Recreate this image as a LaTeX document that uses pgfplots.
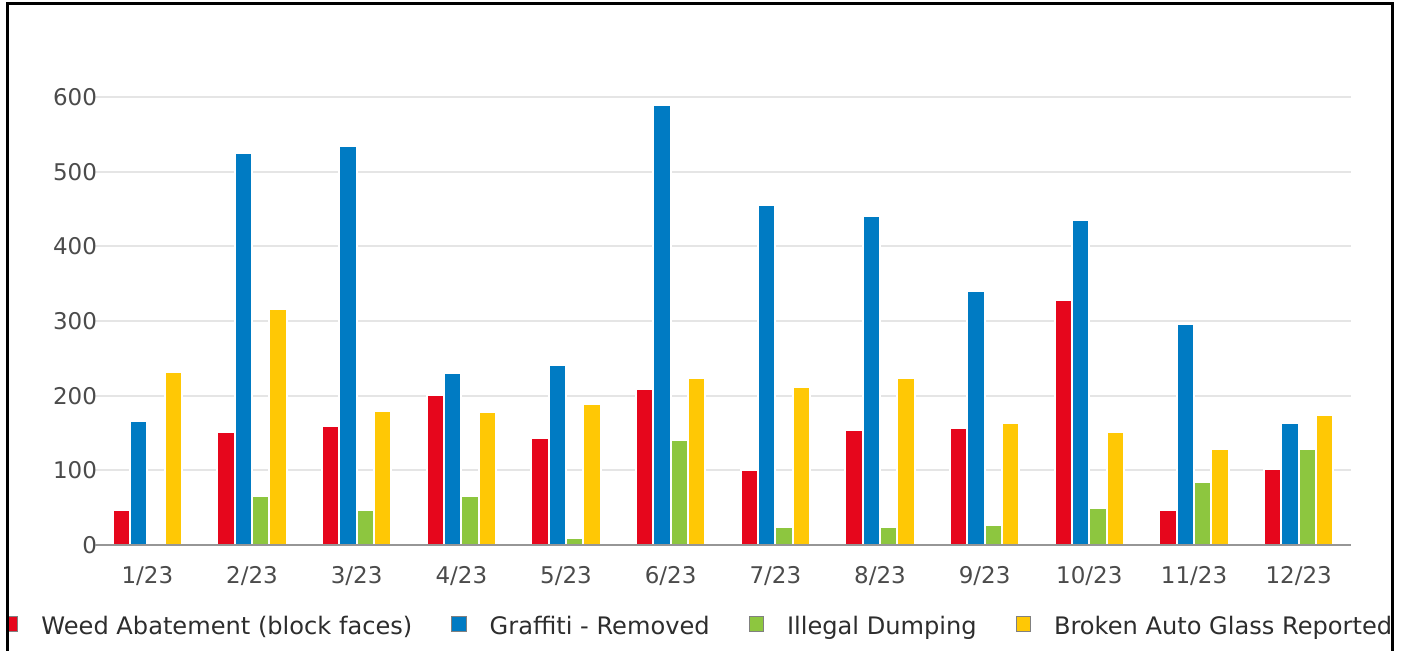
\documentclass[border=0pt]{standalone}
\usepackage{pgfplots}
\usepackage{pgfplotstable}
\pgfplotsset{compat=1.18}
\usepackage{fontspec}
\setmainfont{DejaVu Sans}
\definecolor{cRed}{RGB}{230,6,28}
\definecolor{cBlue}{RGB}{0,123,195}
\definecolor{cGreen}{RGB}{141,198,63}
\definecolor{cYellow}{RGB}{255,200,5}
\definecolor{tickc}{RGB}{75,75,75}
\definecolor{legc}{RGB}{45,45,45}
\definecolor{gridc}{RGB}{229,229,229}
\definecolor{axc}{RGB}{150,150,150}

\pgfplotstableread{
x weed graffiti dumping glass
0 47 166 0 232
1 152 525 65 316
2 160 534 47 180
3 201 230 65 178
4 143 241 9 189
5 209 589 140 224
6 100 456 24 212
7 154 441 24 224
8 157 340 27 163
9 328 435 50 151
10 47 296 84 128
11 102 163 128 174
}\datatable

\begin{document}
\begin{tikzpicture}
\useasboundingbox (0pt,0pt) rectangle (703.5pt,325pt);
\begin{scope}
\clip (4.6pt,-10pt) rectangle (695.4pt,322.6pt);
\begin{axis}[
  at={(47.5pt,52.5pt)}, anchor=south west,
  scale only axis, width=628pt, height=224pt,
  xmin=-0.5, xmax=11.5, ymin=0, ymax=600,
  ybar, bar width=0.1655,
  xtick={0,1,2,3,4,5,6,7,8,9,10,11},
  xticklabels={1/23,2/23,3/23,4/23,5/23,6/23,7/23,8/23,9/23,10/23,11/23,12/23},
  ytick={0,100,200,300,400,500,600},
  /pgf/number format/assume math mode=true,
  ticklabel style={font=\fontsize{11.5}{13}\selectfont, text=tickc, inner sep=0pt},
  xticklabel style={anchor=base, yshift=-19pt},
  yticklabel style={anchor=east, xshift=1.15pt},
  major tick length=0pt, tick style={draw=none},
  axis line style={draw=none},
  ymajorgrids, grid style={gridc, line width=1pt},
  legend columns=4,
  legend style={at={(-0.0732,-0.1826)}, anchor=west, draw=none, fill=none,
    inner sep=0pt, outer sep=0pt,
    font=\fontsize{12.05}{14}\selectfont,
    nodes={inner sep=0pt, text=legc},
    /tikz/every odd column/.append style={column sep=11.5pt},
    /tikz/every even column/.append style={column sep=19.5pt}},
  legend image code/.code={\draw[#1, draw=gray, line width=0.5pt] (0pt,-2.2pt) rectangle (7.2pt,5pt);},
  after end axis/.code={\draw[axc, line width=1pt] (rel axis cs:0,0) -- (rel axis cs:1,0);},
]
\addplot[fill=cRed, draw=white, line width=1pt, bar shift=-0.2483] table[x=x, y=weed] {\datatable};
\addplot[fill=cBlue, draw=white, line width=1pt, bar shift=-0.0828] table[x=x, y=graffiti] {\datatable};
\addplot[fill=cGreen, draw=white, line width=1pt, bar shift=0.0828] table[x=x, y=dumping] {\datatable};
\addplot[fill=cYellow, draw=white, line width=1pt, bar shift=0.2483] table[x=x, y=glass] {\datatable};
\legend{Weed Abatement (block faces), Graffiti - Removed, Illegal Dumping, Broken Auto Glass Reported}
\end{axis}
\end{scope}
\draw[black, line width=1.25pt] (3.75pt,-10pt) rectangle (696.25pt,323.25pt);
\end{tikzpicture}
\end{document}
